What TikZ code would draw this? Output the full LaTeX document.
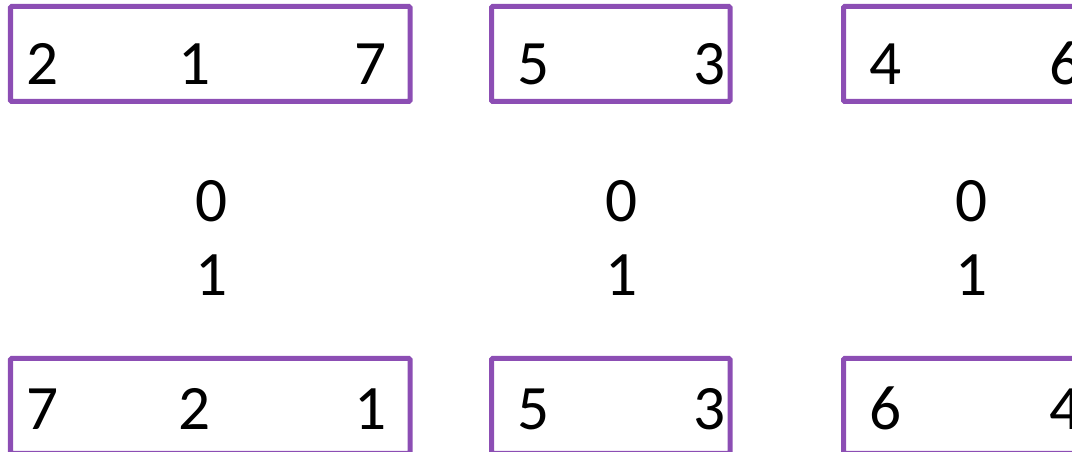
\documentclass[tikz,border=0pt]{standalone}
\usepackage{fontspec}
\setmainfont{Carlito}
\usepackage{tikz}
\definecolor{boxpurple}{RGB}{140,78,180}

\begin{document}
\begin{tikzpicture}[
  box/.style={draw=boxpurple, line width=0.1cm, minimum height=1.9cm, inner sep=0pt, rounded corners=0.6pt},
  num/.style={anchor=base, inner sep=0pt, font=\fontsize{36}{43}\selectfont}]
\useasboundingbox (0,0) rectangle (21.44,9.04);
\clip (0,0) rectangle (21.44,9.04);
\node[box, minimum width=7.99cm] (P1) at (4.205,7.96) {};
\node[box, minimum width=4.77cm] (P2) at (12.215,7.96) {};
\node[box, minimum width=4.77cm] (P3) at (19.255,7.96) {};
\node[box, minimum width=7.99cm] (Q1) at (4.205,0.92) {};
\node[box, minimum width=4.77cm] (Q2) at (12.215,0.92) {};
\node[box, minimum width=4.77cm] (Q3) at (19.255,0.92) {};
\node[num] (p2) at (0.86,7.34) {2};
\node[num] (p1) at (3.9,7.34) {1};
\node[num] (p7) at (7.42,7.34) {7};
\node[num] (p5) at (10.68,7.34) {5};
\node[num] (p3) at (14.2,7.34) {3};
\node[num] (p4) at (17.72,7.34) {4};
\node[num] (p6) at (21.32,7.34) {6};
\node[num] (za) at (4.24,4.6) {0};
\node[num] (oa) at (4.24,3.12) {1};
\node[num] (zb) at (12.44,4.6) {0};
\node[num] (ob) at (12.44,3.12) {1};
\node[num] (zc) at (19.44,4.6) {0};
\node[num] (oc) at (19.44,3.12) {1};
\node[num] (q7) at (0.86,0.44) {7};
\node[num] (q2) at (3.9,0.44) {2};
\node[num] (q1) at (7.42,0.44) {1};
\node[num] (q5) at (10.68,0.44) {5};
\node[num] (q3) at (14.2,0.44) {3};
\node[num] (q6) at (17.72,0.44) {6};
\node[num] (q4) at (21.32,0.44) {4};
\end{tikzpicture}
\end{document}
